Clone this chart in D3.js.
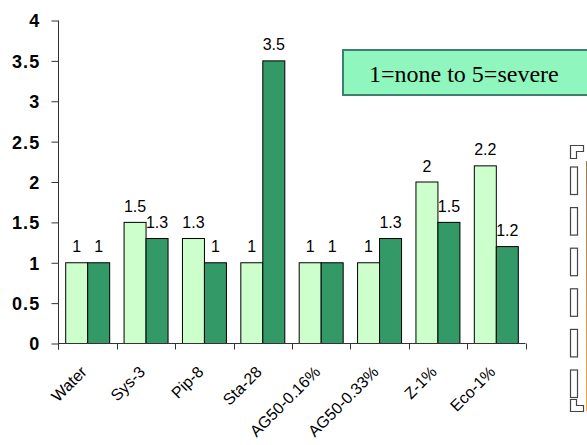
<!DOCTYPE html>
<html><head><meta charset="utf-8">
<script src="https://cdn.jsdelivr.net/npm/d3@7"></script>
<style>body{margin:0;background:#fff;overflow:hidden}</style>
</head><body><svg id="c" width="587" height="445"></svg>
<script>
const categories = ["Water","Sys-3","Pip-8","Sta-28","AG50-0.16%","AG50-0.33%","Z-1%","Eco-1%"];
const seriesNames = ["light","dark"];
const seriesLight = [1, 1.5, 1.3, 1, 1, 1, 2, 2.2];
const seriesDark  = [1, 1.3, 1, 3.5, 1, 1.3, 1.5, 1.2];
const yTicks = [0, 0.5, 1, 1.5, 2, 2.5, 3, 3.5, 4];
const noteText = "1=none to 5=severe";
const legendSlots = [0, 1, 2, 3, 4, 5];

const colors = {light: "#CCFFCC", dark: "#339966"};
const svg = d3.select("#c");
svg.append("rect").attr("width", 587).attr("height", 445).attr("fill", "#fff");

const x = d3.scaleBand().domain(categories).range([58.5, 525.5]).paddingInner(0.2466).paddingOuter(0.1233);
const xs = d3.scaleBand().domain(seriesNames).range([0, x.bandwidth()]);
const y = d3.scaleLinear().domain([0, 4]).range([343.5, 20.5]);

const rows = categories.map((c, i) => ({cat: c, vals: [
  {s: "light", v: seriesLight[i]}, {s: "dark", v: seriesDark[i]}]}));

// bars
const g = svg.append("g");
const grp = g.selectAll("g.cat").data(rows).join("g").attr("class", "cat")
  .attr("transform", d => `translate(${x(d.cat)},0)`);
grp.selectAll("rect").data(d => d.vals).join("rect")
  .attr("x", d => xs(d.s)).attr("width", xs.bandwidth())
  .attr("y", d => y(d.v)).attr("height", d => y(0) - y(d.v))
  .attr("fill", d => colors[d.s]).attr("stroke", "#000").attr("stroke-width", 1);
grp.selectAll("text").data(d => d.vals).join("text")
  .attr("x", d => xs(d.s) + xs.bandwidth() / 2).attr("y", d => y(d.v) - 10.5)
  .attr("text-anchor", "middle").attr("font-family", "Liberation Sans, Arial, sans-serif")
  .attr("font-size", 16).attr("fill", "#000").text(d => d.v);

// y axis
const yAxis = d3.axisLeft(y).tickValues(yTicks).tickSize(7).tickSizeOuter(0).tickPadding(11).tickFormat(d => d);
const ya = svg.append("g").attr("transform", "translate(58.5,0)").call(yAxis);
ya.select(".domain").remove();
ya.selectAll("line").attr("stroke", "#333");
ya.selectAll("text").attr("font-family", "Liberation Sans, Arial, sans-serif")
  .attr("font-size", 18).attr("font-weight", "bold").attr("letter-spacing", 1.2)
  .attr("fill", "#000").attr("dy", "0.36em");
svg.append("line").attr("x1", 58.5).attr("x2", 58.5).attr("y1", y(4)).attr("y2", y(0) + 6).attr("stroke", "#333");

// x axis
svg.append("line").attr("x1", 58.5).attr("x2", 525.5).attr("y1", y(0)).attr("y2", y(0)).attr("stroke", "#333");
const bounds = categories.map(c => x(c) - x.paddingOuter() * x.step()).concat([x.range()[1]]);
svg.selectAll("line.xt").data(bounds).join("line").attr("class", "xt")
  .attr("x1", d => Math.round(d) + 0.5).attr("x2", d => Math.round(d) + 0.5)
  .attr("y1", y(0)).attr("y2", y(0) + 6).attr("stroke", "#333");
svg.selectAll("text.xl").data(categories).join("text").attr("class", "xl")
  .attr("transform", c => `translate(${x(c) + x.bandwidth() / 2},373) rotate(-45)`)
  .attr("text-anchor", "end").attr("font-family", "Liberation Sans, Arial, sans-serif")
  .attr("font-size", 16).attr("fill", "#000").text(c => c);

// note box
svg.append("rect").attr("x", 343).attr("y", 50).attr("width", 260).attr("height", 45)
  .attr("fill", "#8FF7BD").attr("stroke", "#3E7F6F").attr("stroke-width", 2);
svg.append("text").attr("x", 369).attr("y", 81.5).attr("font-family", "Liberation Serif, Times New Roman, serif")
  .attr("font-size", 24).attr("fill", "#000").text(noteText);

// broken legend glyphs
const lg = svg.append("g").attr("fill", "none").attr("stroke", "#444").attr("stroke-width", 1.2);
lg.append("path").attr("d", "M570.5,145.5H583.5V151.5H576.5V158.5H570.5Z");
lg.selectAll("rect").data(legendSlots).join("rect")
  .attr("x", 570.5).attr("y", d => 167 + d * 40.6).attr("width", 7).attr("height", 27.5);
lg.append("path").attr("d", "M570.5,399.5H576.5V405.5H583.5V411.5H570.5Z");
const grad = svg.append("defs").append("linearGradient").attr("id", "og").attr("x1", 0).attr("x2", 0).attr("y1", 0).attr("y2", 1);
grad.append("stop").attr("offset", 0).attr("stop-color", "#9A7A5A");
grad.append("stop").attr("offset", 1).attr("stop-color", "#F5A640");
svg.append("rect").attr("x", 586).attr("y", 161).attr("width", 1).attr("height", 250).attr("fill", "url(#og)");
</script></body></html>
